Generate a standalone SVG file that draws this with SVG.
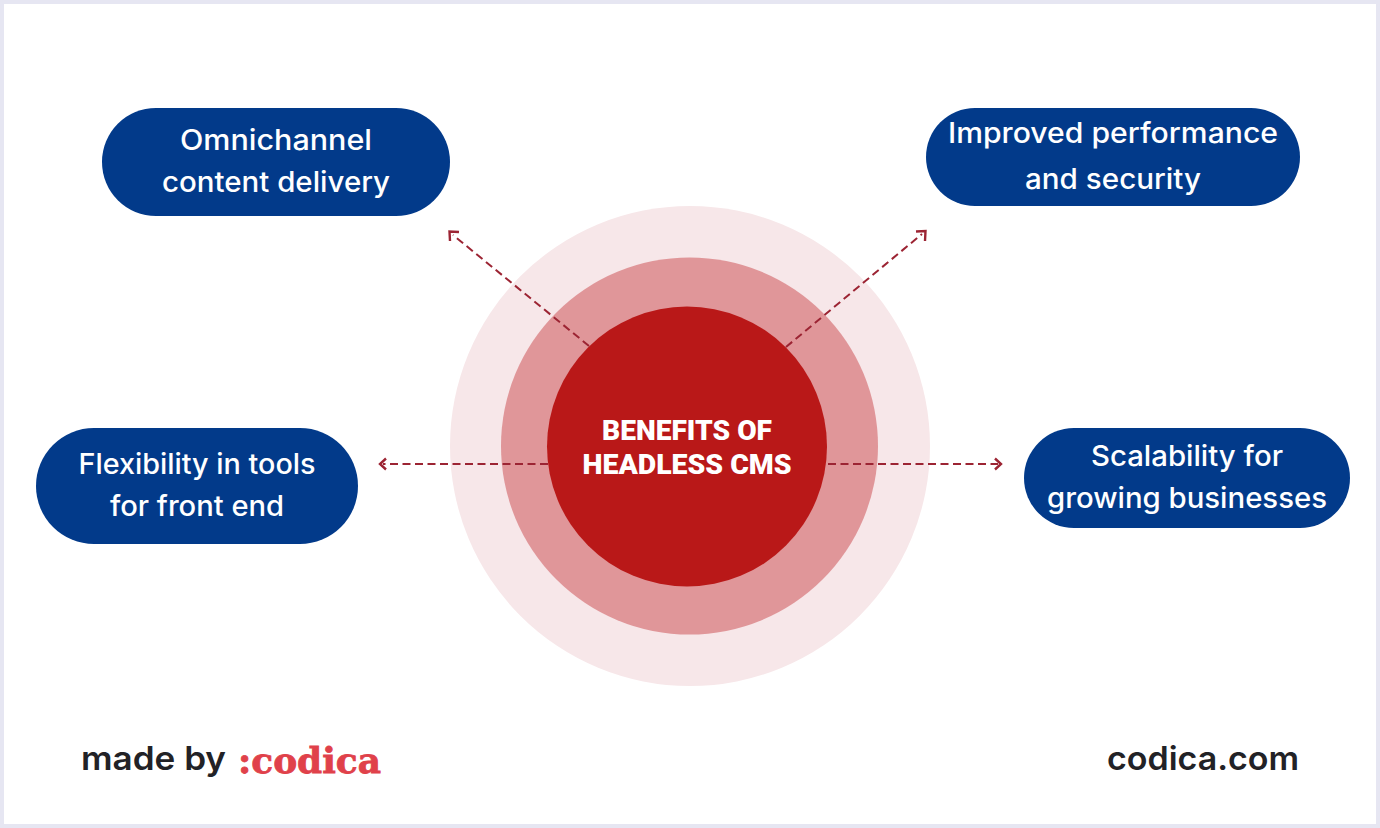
<svg xmlns="http://www.w3.org/2000/svg" width="1380" height="828" viewBox="0 0 1380 828">
<style>
.pill{fill:#023a8a}
.pt{font-family:"Inter","Liberation Sans",sans-serif;font-weight:500;font-size:28px;fill:#fff;text-anchor:middle}
.c{font-family:"Roboto","Liberation Sans",sans-serif;font-weight:900;font-size:28px;fill:#fff;text-anchor:middle}
.foot{font-family:"Inter","Liberation Sans",sans-serif;font-weight:600;font-size:33px;fill:#222226}
.line{fill:none;stroke:#9c2433;stroke-width:2;stroke-dasharray:8 4.500}
.head{fill:none;stroke:#9c2433;stroke-width:2.400}
</style>
<rect width="1380" height="828" fill="#e6e6f2"/>
<rect x="4" y="4" width="1372" height="820" fill="#fff"/>
<g id="center">
<circle cx="690" cy="446" r="240" fill="#f7e7e9"/>
<circle cx="689.500" cy="446" r="188.500" fill="#e09699"/>
<circle cx="687" cy="446.500" r="140" fill="#b91818"/>
<text class="c" x="687" y="440" textLength="170" lengthAdjust="spacingAndGlyphs">BENEFITS OF</text>
<text class="c" x="687" y="474" textLength="209" lengthAdjust="spacingAndGlyphs">HEADLESS CMS</text>
</g>
<g id="connectors">
<path class="line" d="M589 346L453 235"/>
<path class="head" d="M450 241L449.500 231.500L459 232"/>
<path class="line" d="M786 347L922 234"/>
<path class="head" d="M916 231.500L925.500 231L925 241"/>
<path class="line" d="M548 464H383"/>
<path class="head" d="M386 458.500L380 464L386 469.500"/>
<path class="line" d="M828 464H998"/>
<path class="head" d="M995 458.500L1001 464L995 469.500"/>
</g>
<g id="omnichannel">
<rect class="pill" x="102" y="108" width="348" height="108" rx="54"/>
<text class="pt" x="276" y="150" textLength="192" lengthAdjust="spacingAndGlyphs">Omnichannel</text>
<text class="pt" x="276" y="192" textLength="228" lengthAdjust="spacingAndGlyphs">content delivery</text>
</g>
<g id="performance">
<rect class="pill" x="926" y="108" width="374" height="98" rx="49"/>
<text class="pt" x="1113" y="143" textLength="330" lengthAdjust="spacingAndGlyphs">Improved performance</text>
<text class="pt" x="1113" y="189" textLength="176" lengthAdjust="spacingAndGlyphs">and security</text>
</g>
<g id="flexibility">
<rect class="pill" x="36" y="428" width="322" height="116" rx="58"/>
<text class="pt" x="197" y="474" textLength="237" lengthAdjust="spacingAndGlyphs">Flexibility in tools</text>
<text class="pt" x="197" y="516" textLength="174" lengthAdjust="spacingAndGlyphs">for front end</text>
</g>
<g id="scalability">
<rect class="pill" x="1024" y="428" width="326" height="100" rx="50"/>
<text class="pt" x="1187" y="466" textLength="192" lengthAdjust="spacingAndGlyphs">Scalability for</text>
<text class="pt" x="1187" y="508" textLength="280" lengthAdjust="spacingAndGlyphs">growing businesses</text>
</g>
<g id="footer">
<text class="foot" x="81" y="770" textLength="145" lengthAdjust="spacingAndGlyphs">made by</text>
<text x="238" y="773" font-family="DejaVu Serif, serif" font-weight="700" font-size="36" fill="#e0414a" stroke="#e0414a" stroke-width="0.800" textLength="143" lengthAdjust="spacingAndGlyphs">:codica</text>
<text class="foot" x="1107" y="770" textLength="192" lengthAdjust="spacingAndGlyphs">codica.com</text>
</g>
</svg>
